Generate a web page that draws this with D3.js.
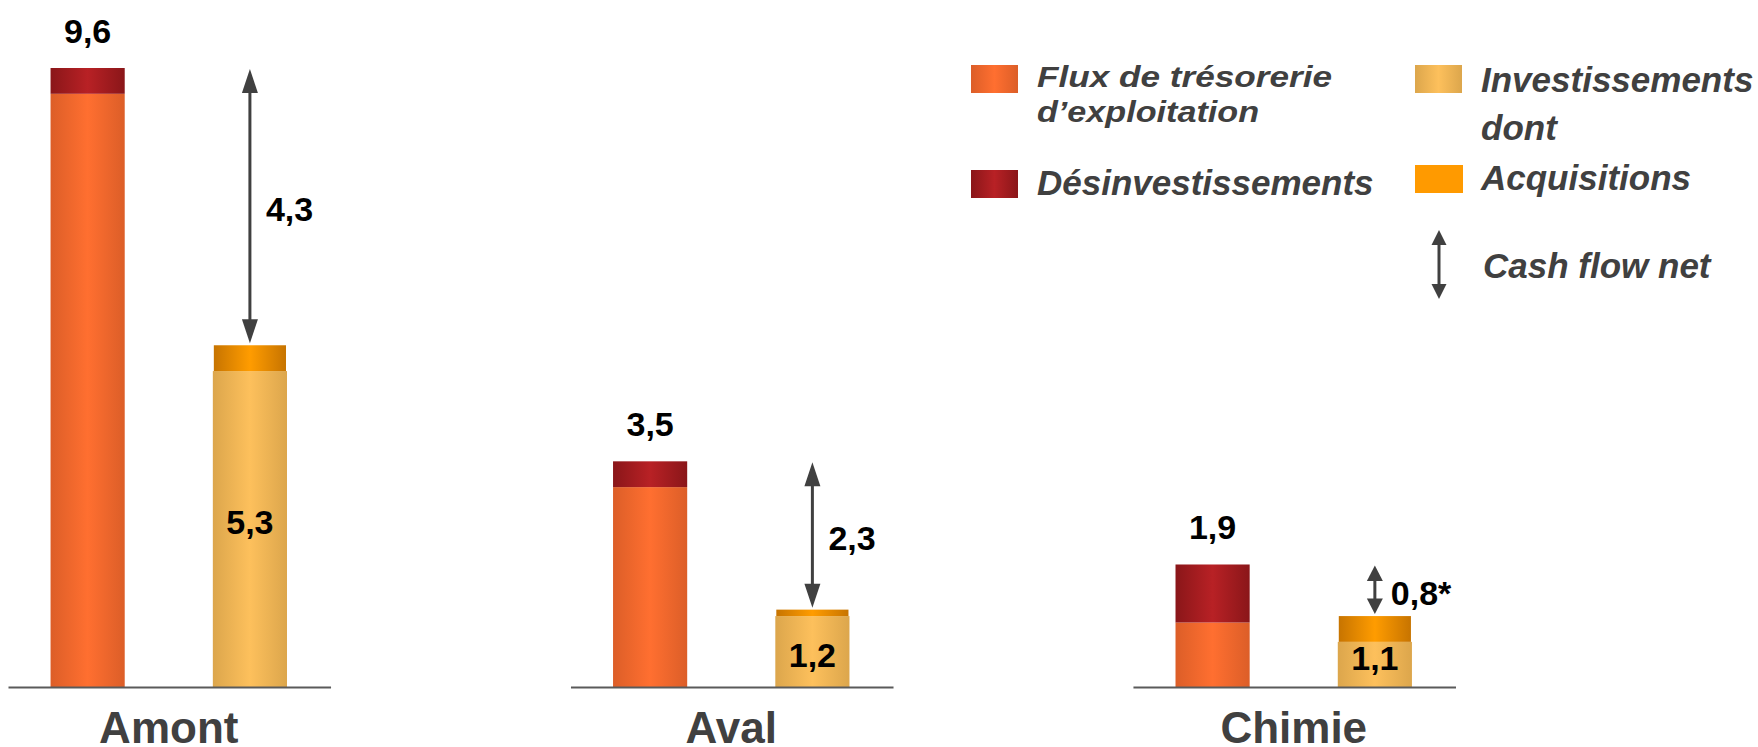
<!DOCTYPE html>
<html>
<head>
<meta charset="utf-8">
<script src="https://cdn.jsdelivr.net/npm/d3@7"></script>
<style>
  body { margin: 0; background: #fff; }
  svg { display: block; font-family: "Liberation Sans", Arial, sans-serif; }
</style>
</head>
<body>
<svg id="chart" width="1758" height="747"></svg>
<script>
// données (Md€)
const categories = ["Amont", "Aval", "Chimie"];
const flux = [9.2, 3.1, 1.0];
const desinvest = [0.4, 0.4, 0.9];
const invest = [5.3, 1.2, 1.1];        // total investissements, acquisitions comprises
const acquisitions = [0.4, 0.1, 0.4];
const cashflow = [4.3, 2.3, 0.8];
const totalLabels = ["9,6", "3,5", "1,9"];
const investLabels = ["5,3", "1,2", "1,1"];
const cashflowLabels = ["4,3", "2,3", "0,8*"];

const svg = d3.select("#chart");
const dark = "#404040";

// dégradés horizontaux des barres
const defs = svg.append("defs");
function gradient(id, edge, mid) {
    const g = defs.append("linearGradient").attr("id", id)
        .attr("x1", 0).attr("x2", 1).attr("y1", 0).attr("y2", 0);
    g.append("stop").attr("offset", 0).attr("stop-color", edge);
    g.append("stop").attr("offset", 0.5).attr("stop-color", mid);
    g.append("stop").attr("offset", 1).attr("stop-color", edge);
}
gradient("g-flux", "#dc5e28", "#ff6f30");
gradient("g-desinv", "#8a1619", "#b82125");
gradient("g-invest", "#dca64c", "#fdc05c");
gradient("g-acq", "#c77400", "#ff9c00");

const y = d3.scaleLinear().domain([0, 9.6]).range([687, 68]);

const x = d3.scaleBand().domain(categories)
    .range([6.5, 1456]).paddingInner(0.423).paddingOuter(0);

const xi = d3.scaleBand().domain(["flux", "invest"])
    .range([0, x.bandwidth()]).paddingInner(0.543).paddingOuter(0.2715);

const rows = categories.map((c, i) => ({
    cat: c, flux: flux[i], desinv: desinvest[i], invest: invest[i],
    acq: acquisitions[i], cf: cashflow[i],
    total: flux[i] + desinvest[i],
    tLab: totalLabels[i], iLab: investLabels[i], cLab: cashflowLabels[i]
}));

const group = svg.append("g").selectAll("g")
    .data(rows).enter().append("g")
    .attr("transform", d => `translate(${x(d.cat)},0)`);

const bw = xi.bandwidth();

// flux d'exploitation
group.append("rect")
    .attr("x", xi("flux")).attr("width", bw)
    .attr("y", d => y(d.flux)).attr("height", d => y(0) - y(d.flux))
    .attr("fill", "url(#g-flux)");

// désinvestissements
group.append("rect")
    .attr("x", xi("flux")).attr("width", bw)
    .attr("y", d => y(d.total)).attr("height", d => y(d.flux) - y(d.total))
    .attr("fill", "url(#g-desinv)");

// investissements hors acquisitions
group.append("rect")
    .attr("x", xi("invest")).attr("width", bw)
    .attr("y", d => y(d.invest - d.acq)).attr("height", d => y(0) - y(d.invest - d.acq))
    .attr("fill", "url(#g-invest)");

// acquisitions
group.append("rect")
    .attr("x", xi("invest") + 1).attr("width", bw - 2)
    .attr("y", d => y(d.invest)).attr("height", d => y(d.invest - d.acq) - y(d.invest))
    .attr("fill", "url(#g-acq)");

// segments de l'axe
group.append("line")
    .attr("x1", 2).attr("x2", x.bandwidth())
    .attr("y1", y(0) + 0.5).attr("y2", y(0) + 0.5)
    .attr("stroke", "#5a5a5a").attr("stroke-width", 2);

// étiquettes
group.append("text")
    .attr("x", xi("flux") + bw / 2).attr("y", d => y(d.total) - 25)
    .attr("text-anchor", "middle").attr("font-size", 34).attr("font-weight", "bold")
    .attr("fill", "#000").text(d => d.tLab);

group.append("text")
    .attr("x", xi("invest") + bw / 2).attr("y", d => (y(d.invest) + y(0)) / 2 + 6)
    .attr("dy", "0.36em")
    .attr("text-anchor", "middle").attr("font-size", 34).attr("font-weight", "bold")
    .attr("fill", "#000").text(d => d.iLab);

// flèche double
function doubleArrow(sel, cx, y1, y2, headW, headL, sw) {
    sel.append("line")
        .attr("x1", cx).attr("x2", cx)
        .attr("y1", y1 + headL - 1).attr("y2", y2 - headL + 1)
        .attr("stroke", dark).attr("stroke-width", sw);
    sel.append("path")
        .attr("d", `M${cx},${y1} L${cx - headW / 2},${y1 + headL} L${cx + headW / 2},${y1 + headL} Z`)
        .attr("fill", dark);
    sel.append("path")
        .attr("d", `M${cx},${y2} L${cx - headW / 2},${y2 - headL} L${cx + headW / 2},${y2 - headL} Z`)
        .attr("fill", dark);
}

group.each(function (d) {
    const g = d3.select(this);
    const cx = xi("invest") + bw / 2;
    const y1 = y(d.total) + 1;
    const y2 = y(d.total - d.cf) - 2;
    const headL = Math.min(24, (y2 - y1) * 0.32);
    doubleArrow(g, cx, y1, y2, 16, headL, 3);
    g.append("text")
        .attr("x", cx + 16).attr("y", (y1 + y2) / 2 + 3).attr("dy", "0.36em")
        .attr("font-size", 34).attr("font-weight", "bold").attr("fill", "#000")
        .text(d.cLab);
});

// catégories
const axis = svg.append("g")
    .attr("transform", `translate(0,${y(0)})`)
    .call(d3.axisBottom(x).tickSize(0));
axis.select(".domain").remove();
axis.selectAll("text")
    .attr("y", 56).attr("dy", null)
    .attr("font-size", 44).attr("font-weight", "bold")
    .attr("font-family", "'Liberation Sans', Arial, sans-serif")
    .attr("fill", dark);

// légende
const legend = svg.append("g")
    .attr("font-size", 35).attr("font-weight", "bold").attr("font-style", "italic")
    .attr("fill", dark);

legend.append("rect").attr("x", 971).attr("y", 65).attr("width", 47).attr("height", 28).attr("fill", "url(#g-flux)");
legend.append("text").attr("x", 1037).attr("y", 87).attr("font-size", 30)
    .attr("textLength", 295).attr("lengthAdjust", "spacingAndGlyphs").text("Flux de trésorerie");
legend.append("text").attr("x", 1037).attr("y", 122).attr("font-size", 30)
    .attr("textLength", 222).attr("lengthAdjust", "spacingAndGlyphs").text("d’exploitation");

legend.append("rect").attr("x", 971).attr("y", 170).attr("width", 47).attr("height", 28).attr("fill", "url(#g-desinv)");
legend.append("text").attr("x", 1037).attr("y", 195).text("Désinvestissements");

legend.append("rect").attr("x", 1415).attr("y", 65).attr("width", 47).attr("height", 28).attr("fill", "url(#g-invest)");
legend.append("text").attr("x", 1481).attr("y", 92).text("Investissements");
legend.append("text").attr("x", 1481).attr("y", 140).text("dont");

legend.append("rect").attr("x", 1415).attr("y", 165).attr("width", 48).attr("height", 28).attr("fill", "#ff9a00");
legend.append("text").attr("x", 1481).attr("y", 190).text("Acquisitions");

doubleArrow(legend.append("g"), 1439, 230, 299, 15, 15, 3);
legend.append("text").attr("x", 1483).attr("y", 278).text("Cash flow net");
</script>
</body>
</html>
